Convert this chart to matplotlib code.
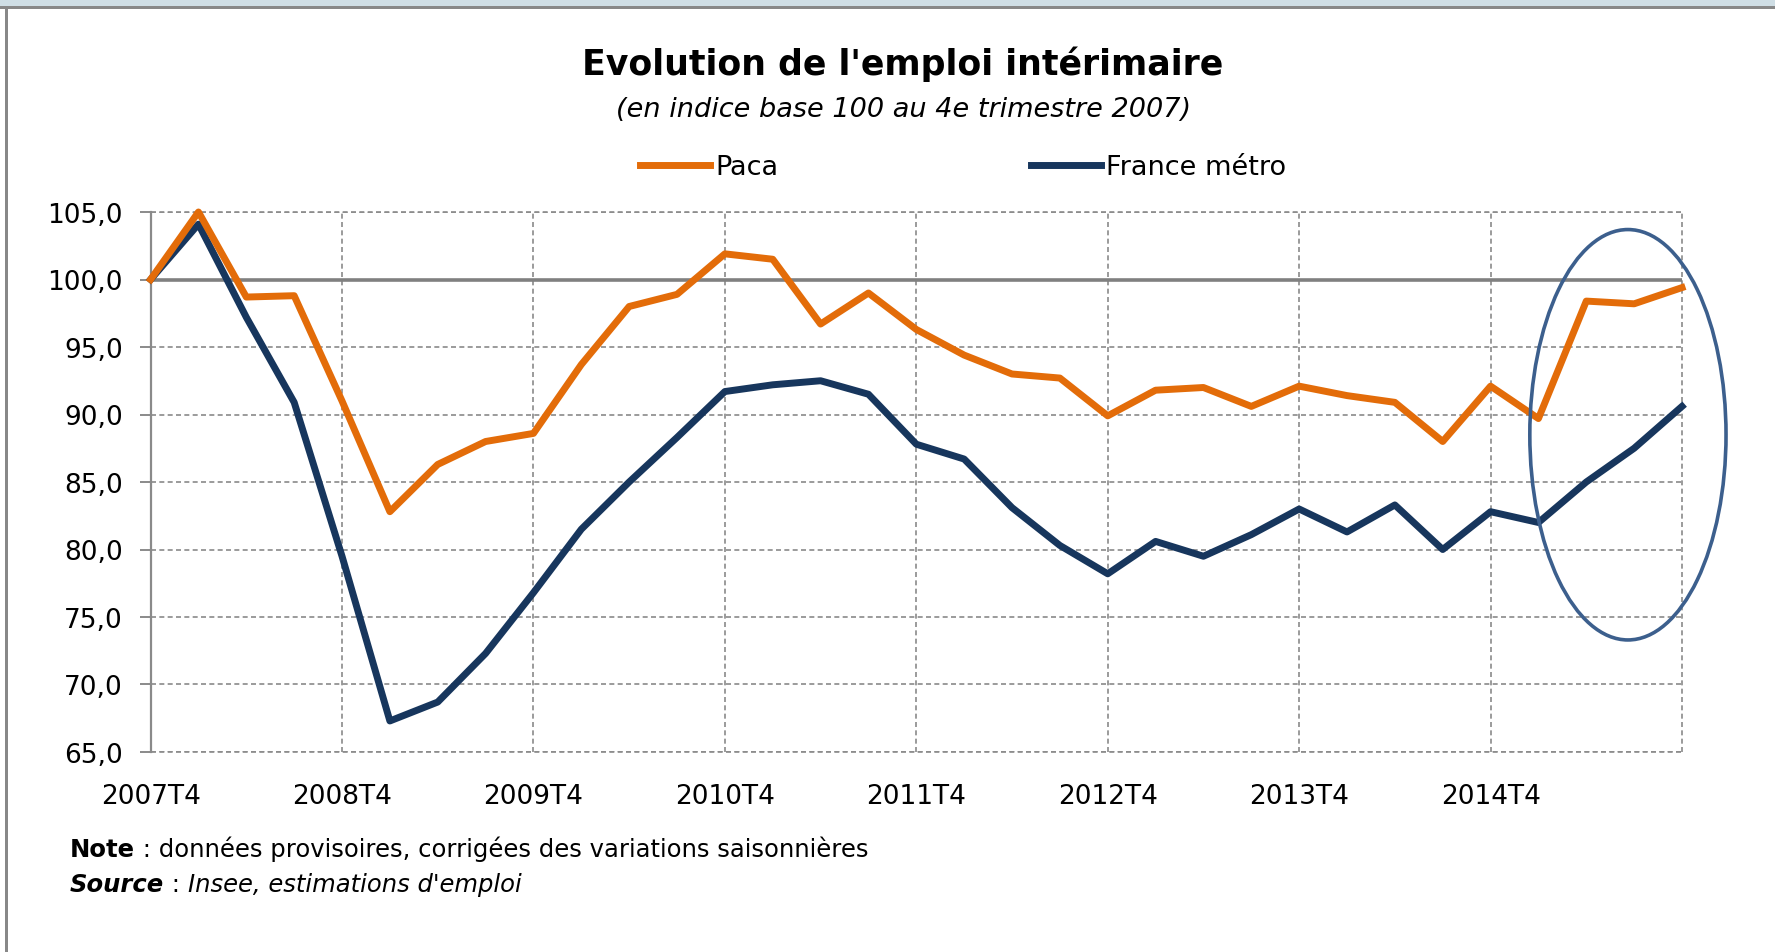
import matplotlib
matplotlib.use('Agg')
import matplotlib.pyplot as plt
from matplotlib.patches import Ellipse, Rectangle

plt.rcParams['font.family'] = ['DejaVu Sans']

# quarters, base 100 = 2007T4
quarters = ['2007T4',
            '2008T1', '2008T2', '2008T3', '2008T4',
            '2009T1', '2009T2', '2009T3', '2009T4',
            '2010T1', '2010T2', '2010T3', '2010T4',
            '2011T1', '2011T2', '2011T3', '2011T4',
            '2012T1', '2012T2', '2012T3', '2012T4',
            '2013T1', '2013T2', '2013T3', '2013T4',
            '2014T1', '2014T2', '2014T3', '2014T4',
            '2015T1', '2015T2', '2015T3', '2015T4']
paca = [100.0, 105.0, 98.7, 98.8, 91.0, 82.8, 86.3, 88.0, 88.6, 93.7, 98.0,
        98.9, 101.9, 101.5, 96.7, 99.0, 96.3, 94.4, 93.0, 92.7, 89.9, 91.8,
        92.0, 90.6, 92.1, 91.4, 90.9, 88.0, 92.1, 89.7, 98.4, 98.2, 99.4]
france = [100.0, 104.1, 97.2, 90.9, 79.5, 67.3, 68.7, 72.3, 76.8, 81.5, 85.0,
          88.3, 91.7, 92.2, 92.5, 91.5, 87.8, 86.7, 83.1, 80.3, 78.2, 80.6,
          79.5, 81.1, 83.0, 81.3, 83.3, 80.0, 82.8, 82.0, 85.0, 87.5, 90.6]
yticks = [65, 70, 75, 80, 85, 90, 95, 100, 105]
# highlighted zone (last quarters)
circle_x, circle_w = 30.87, 4.1
circle_y, circle_h = 88.5, 30.4

ORANGE = '#E36C09'
NAVY = '#17365D'
GRID = '#8a8a8a'
DASH = (0, (3, 2))

W, H = 1775, 953
fig = plt.figure(figsize=(W / 100, H / 100), dpi=100)
fig.patch.set_facecolor('white')

# window frame
fig.patches.append(Rectangle((0, 1 - 7 / H), 1, 7 / H, transform=fig.transFigure,
                             facecolor='#cfdee5', edgecolor='none'))
fig.patches.append(Rectangle((0, 1 - 10 / H), 1, 3 / H, transform=fig.transFigure,
                             facecolor='#888888', edgecolor='none'))
fig.patches.append(Rectangle((5 / W, 0), 3 / W, 1 - 10 / H, transform=fig.transFigure,
                             facecolor='#888888', edgecolor='none'))

ax = fig.add_axes([150.6 / W, 1 - 753 / H, (1682 - 150.6) / W, (753 - 213) / H])
x = list(range(len(quarters)))

ax.axhline(100, color='#808080', lw=2.6, zorder=2)
ax.plot(x, paca, color=ORANGE, lw=5.0, label='Paca', zorder=4, clip_on=False)
ax.plot(x, france, color=NAVY, lw=5.0, label='France métro', zorder=3, clip_on=False)

ax.add_patch(Ellipse((circle_x, circle_y), circle_w, circle_h, fill=False,
                     edgecolor='#3c5f8d', lw=2.6, zorder=5, clip_on=False))

ax.set_xlim(0, len(quarters) - 1)
ax.set_ylim(yticks[0], yticks[-1])
ax.set_yticks(yticks)
ax.set_yticklabels([('%.1f' % v).replace('.', ',') for v in yticks], fontsize=19)
ax.set_xticks(x[:-1:4])
ax.set_xticklabels(quarters[:-1:4], fontsize=19)

for s in ['top', 'right', 'bottom']:
    ax.spines[s].set_visible(False)
ax.spines['left'].set_color(GRID)
ax.spines['left'].set_linewidth(1.6)
ax.tick_params(axis='y', direction='out', length=8, width=1.4, color=GRID, pad=12)
ax.tick_params(axis='x', length=0, pad=22)
ax.grid(True, color=GRID, lw=1.2, ls=DASH)
ax.set_axisbelow(True)
# border gridlines, drawn whole (not clipped by the axes box)
ax.axhline(yticks[0], color=GRID, lw=1.2, ls=DASH, clip_on=False, zorder=1)
ax.axhline(yticks[-1], color=GRID, lw=1.2, ls=DASH, clip_on=False, zorder=1)
ax.axvline(x[-1], color=GRID, lw=1.2, ls=DASH, clip_on=False, zorder=1)

# title and subtitle
fig.text(903 / W, 1 - 64 / H, "Evolution de l'emploi intérimaire", ha='center',
         va='center', fontsize=25, fontweight='bold')
fig.text(904 / W, 1 - 110 / H, '(en indice base 100 au 4e trimestre 2007)',
         ha='center', va='center', fontsize=19.5, style='italic')

leg = fig.legend(loc='center left', bbox_to_anchor=(640 / W, 1 - 168 / H), ncol=2,
                 frameon=False, fontsize=19.5, handlelength=2.6, handletextpad=0.19,
                 columnspacing=9.3, borderpad=0, borderaxespad=0)


def chain_text(xpos, ypos, parts):
    # write text pieces one after the other on the same baseline
    renderer = fig.canvas.get_renderer()
    for txt, kw in parts:
        t = fig.text(xpos, ypos, txt, ha='left', va='baseline', fontsize=17.5, **kw)
        bb = t.get_window_extent(renderer=renderer)
        xpos = bb.x1 / W


chain_text(70 / W, 1 - 857 / H, [('Note', {'fontweight': 'bold'}),
                                  (' : données provisoires, corrigées des variations saisonnières', {})])
chain_text(70 / W, 1 - 892 / H, [('Source', {'fontweight': 'bold', 'style': 'italic'}),
                                  (' : ', {}),
                                  ("Insee, estimations d'emploi", {'style': 'italic'})])

fig.savefig('out.png', dpi=100)
